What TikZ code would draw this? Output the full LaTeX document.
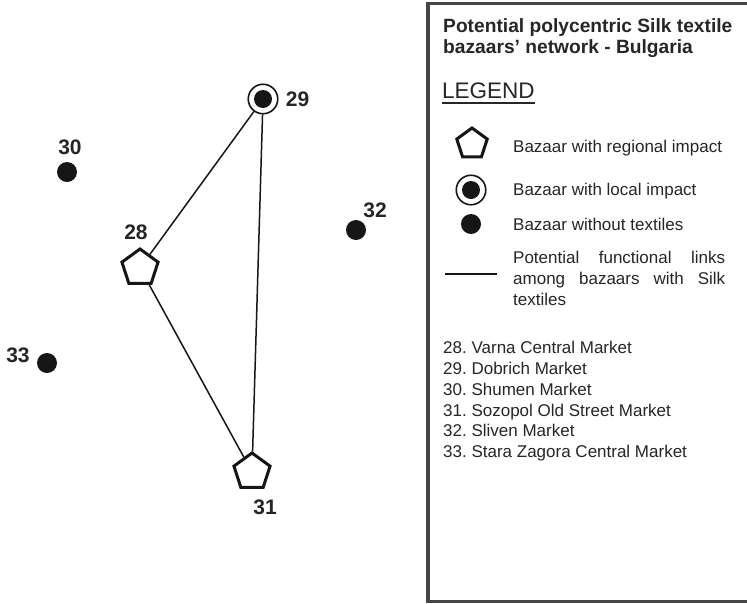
\documentclass[tikz,border=0pt]{standalone}
\usepackage{fontspec}
\setmainfont{Liberation Sans}
\usetikzlibrary{shapes.geometric}
\definecolor{ink}{HTML}{161616}
\definecolor{txt}{HTML}{262626}
\definecolor{frame}{HTML}{454545}
\frenchspacing

\begin{document}
\begin{tikzpicture}[x=1pt,y=-1pt,
  regional/.style={regular polygon, regular polygon sides=5, draw=ink,
    line width=3pt, minimum size=38pt, inner sep=0pt, fill=white},
  localmk/.style={circle, draw=ink, line width=1.6pt, minimum size=29.5pt,
    inner sep=0pt, fill=white,
    path picture={\fill[ink] (path picture bounding box.center) circle (9pt);}},
  nodot/.style={circle, fill=ink, minimum size=20pt, inner sep=0pt},
  num/.style={font=\fontsize{21}{21}\selectfont\bfseries, text=txt, inner sep=0pt},
  link/.style={draw=ink, line width=1.5pt},
  head/.style={font=\fontsize{19.2}{22}\selectfont\bfseries, text=txt,
    inner sep=0pt, anchor=base west},
  item/.style={font=\fontsize{17}{21}\selectfont, text=txt, inner sep=0pt,
    anchor=base west},
]
\useasboundingbox (0,0) rectangle (747,603);
\fill[white] (0,0) rectangle (747,603);

% ---- legend frame (open to the right) ----
\draw[frame, line width=3pt] (747,3.5) -- (427.5,3.5) -- (427.5,601) -- (747,601);
\draw[frame, line width=1pt] (429.5,3.5) -- (429.5,601);

% ---- bazaar map ----
\node[localmk]  (n29) at (263,99) {};
\node[nodot]    (n30) at (67,172) {};
\node[regional] (n28) at (140,268) {};
\node[nodot]    (n32) at (356,230) {};
\node[nodot]    (n33) at (47,363) {};
\node[regional] (n31) at (252,472) {};

\draw[link] (n29) -- (n28);
\draw[link] (n29) -- (n31);
\draw[link] (n28) -- (n31);

\node[num] (l29) at (297.5,99.5) {29};
\node[num] (l30) at (70,147) {30};
\node[num] (l28) at (136,232) {28};
\node[num] (l32) at (375,210) {32};
\node[num] (l33) at (18,355) {33};
\node[num] (l31) at (265,507) {31};

% ---- legend ----
\node[head] (t1) at (443,32) {Potential polycentric Silk textile};
\node[head] (t2) at (443,53.5) {bazaars’ network - Bulgaria};

\node[font=\fontsize{22.5}{24}\selectfont, text=txt, inner sep=0pt,
  anchor=base west] (lg) at (442,98) {LEGEND};
\draw[txt, line width=2pt] ([yshift=-5pt]lg.base west) -- ([yshift=-5pt]lg.base east);

\node[regional, minimum size=32pt] (k1) at (472,144) {};
\node[item] (k1t) at (513,152) {Bazaar with regional impact};

\node[localmk] (k2) at (471,190) {};
\node[item] (k2t) at (513,195) {Bazaar with local impact};

\node[nodot] (k3) at (471,224) {};
\node[item] (k3t) at (513,230) {Bazaar without textiles};

\coordinate (k4a) at (445,274);
\coordinate (k4b) at (497,274);
\draw[link, line width=2pt] (k4a) -- (k4b);
\node[item, text width=212pt, align=justify, anchor=north west] (k4t) at (513,250.5)
  {Potential functional links\linebreak among bazaars with Silk\linebreak textiles};

\node[item] (m28) at (443,353) {28. Varna Central Market};
\node[item] (m29) at (443,374) {29. Dobrich Market};
\node[item] (m30) at (443,395) {30. Shumen Market};
\node[item] (m31) at (443,416) {31. Sozopol Old Street Market};
\node[item] (m32) at (443,436) {32. Sliven Market};
\node[item] (m33) at (443,457) {33. Stara Zagora Central Market};
\end{tikzpicture}
\end{document}
